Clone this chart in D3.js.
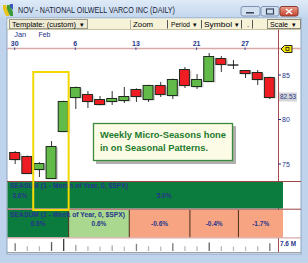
<!DOCTYPE html>
<html><head><meta charset="utf-8">
<script src="https://cdn.jsdelivr.net/npm/d3@7"></script>
<style>body{margin:0;background:#fff;overflow:hidden}svg{display:block}</style>
</head><body>
<script>
// ---------- DATA ----------
const title = "NOV - NATIONAL OILWELL VARCO INC (DAILY)";
const days   = ["30","31","1","4","5","6","7","8","11","12","13","14","15","19","20","21","22","25","26","27","28","29"];
const months = ["Jan","Jan","Feb","Feb","Feb","Feb","Feb","Feb","Feb","Feb","Feb","Feb","Feb","Feb","Feb","Feb","Feb","Feb","Feb","Feb","Feb","Feb"];
const open   = [76.35,75.90,74.44,73.43,78.71,82.53,82.87,82.30,82.08,82.19,83.43,82.30,83.88,82.75,85.67,83.76,84.33,86.91,86.12,85.56,85.34,84.78];
const high   = [76.45,75.95,75.20,77.58,82.10,83.70,83.20,82.64,83.20,83.65,83.50,83.90,84.21,84.60,85.90,85.11,87.47,87.13,86.69,85.56,85.56,84.80];
const low    = [75.00,73.90,73.54,73.40,78.60,81.18,81.29,81.60,81.63,81.85,81.97,81.97,82.53,82.30,83.54,83.43,84.21,85.34,85.67,84.66,83.88,82.30];
const close  = [75.56,73.99,75.11,77.02,82.08,83.65,82.08,81.74,82.42,82.64,82.64,83.88,82.87,84.55,83.88,84.55,87.13,86.24,86.12,85.22,84.55,82.53];
const volume = [4.5,2.8,2.8,5.2,7.0,3.5,2.8,2.6,3.2,2.6,4.2,2.8,2.6,4.5,2.8,2.8,5.0,2.8,2.6,2.6,2.8,4.5];
const dayTicks   = ["30","6","13","21","27"];
const priceTicks = [75,80,85];
const lastPrice  = "82.53";
const volMaxLabel = "7.6 M";
const monthNames  = ["Jan","Feb"];
const monthValues = [3.6,5.0];
const weekOf      = [0,0,0,0,0,1,1,1,1,1,2,2,2,2,2,3,3,3,3,4,4,4];
const weekValues  = [6.9,0.6,-0.6,-0.4,-1.7];
const panel1Label = "SEASUM (1 - Month of Year, 0, $SPX)";
const panel2Label = "SEASUM (2 - Week of Year, 0, $SPX)";
const calloutLines = ["Weekly Micro-Seasons hone","in on Seasonal Patterns."];
const toolbarItems = ["Template: (custom)","Zoom","Period","Symbol","Scale"];

// ---------- SETUP ----------
const W = 308, H = 263;
const svg = d3.select("body").append("svg").attr("width", W).attr("height", H);
const FONT = "Liberation Sans, Arial, sans-serif";
const NAVY = "#26368c";

function txt(g, s, x, y, o = {}) {
  const t = g.append("text").attr("x", x).attr("y", y).text(s)
    .attr("font-family", o.family || FONT).attr("font-size", o.size || 7)
    .attr("font-weight", o.weight || "normal").attr("fill", o.fill || "#000")
    .attr("text-anchor", o.anchor || "start");
  if (o.len) t.attr("textLength", o.len).attr("lengthAdjust", "spacingAndGlyphs");
  return t;
}

const defs = svg.append("defs");
const tg = defs.append("linearGradient").attr("id","tb").attr("x1",0).attr("y1",0).attr("x2",0).attr("y2",1);
tg.append("stop").attr("offset",0).attr("stop-color","#dfeaf7");
tg.append("stop").attr("offset",1).attr("stop-color","#c3d6ed");
const cg = defs.append("linearGradient").attr("id","cb").attr("x1",0).attr("y1",0).attr("x2",0).attr("y2",1);
cg.append("stop").attr("offset",0).attr("stop-color","#e8a08c");
cg.append("stop").attr("offset",1).attr("stop-color","#c8412c");

// frame
svg.append("rect").attr("width",W).attr("height",H).attr("fill","#bfd4ec");
svg.append("rect").attr("width",W).attr("height",18).attr("fill","url(#tb)");
// icon
svg.append("polygon").attr("points","3,5 6,5 9,12 9,16 6,16 3,9").attr("fill","#e9c21c");
svg.append("polygon").attr("points","7,5 10,5 13,12 13,16 10,16 7,9").attr("fill","#3f9a3a");
svg.append("polygon").attr("points","10,4 13,4 13,10 10,7").attr("fill","#3a58b8");
txt(svg, title, 18, 13, {size: 8.5, fill: "#1b2638", len: 157});
// window buttons
[[241,19],[261,18]].forEach(([x,w],i)=>{
  svg.append("rect").attr("x",x).attr("y",6.5).attr("width",w).attr("height",9.5).attr("rx",2)
    .attr("fill","#d3e0f0").attr("stroke","#7d93b4");
});
svg.append("rect").attr("x",246).attr("y",12).attr("width",8).attr("height",1.6).attr("fill","#3a4660");
svg.append("rect").attr("x",266.5).attr("y",9).attr("width",7).attr("height",5).attr("fill","none").attr("stroke","#3a4660").attr("stroke-width",1.2);
svg.append("rect").attr("x",280).attr("y",6.5).attr("width",18).attr("height",9.5).attr("rx",2).attr("fill","url(#cb)").attr("stroke","#8a3a2e");
svg.append("path").attr("d","M286,9 L292,14 M292,9 L286,14").attr("stroke","#fff").attr("stroke-width",1.6);

// content area
svg.append("rect").attr("x",7).attr("y",18).attr("width",294).attr("height",236).attr("fill","#fff").attr("stroke","#8ea3bf");
// toolbar
svg.append("rect").attr("x",7.5).attr("y",18.5).attr("width",293).attr("height",10.5).attr("fill","#f6f2d8");
svg.append("line").attr("x1",7).attr("x2",301).attr("y1",29.5).attr("y2",29.5).attr("stroke","#c9c2a2");
svg.append("rect").attr("x",9.5).attr("y",19.5).attr("width",78).attr("height",9).attr("fill","#efead2").attr("stroke","#9a9a8a");
txt(svg, toolbarItems[0], 12, 27, {size:7.5, len:64});
txt(svg, "\u25BE", 80, 27, {size:7});
svg.append("line").attr("x1",130.5).attr("x2",130.5).attr("y1",20).attr("y2",29).attr("stroke","#b8b29a");
txt(svg, toolbarItems[1], 133, 27, {size:7.5, len:20});
[167,201,241,252].forEach(x=>svg.append("line").attr("x1",x+.5).attr("x2",x+.5).attr("y1",20).attr("y2",28.5).attr("stroke","#555"));
txt(svg, toolbarItems[2], 171, 27, {size:7.5, len:19});
txt(svg, "\u25BE", 193, 27, {size:7});
txt(svg, toolbarItems[3], 204, 27, {size:7.5, len:28});
txt(svg, "\u25BE", 235, 27, {size:7});
txt(svg, ".", 247, 27, {size:7.5});
svg.append("rect").attr("x",267.5).attr("y",19.5).attr("width",33).attr("height",9).attr("fill","#f6f2d8").attr("stroke","#8a8a7a");
txt(svg, toolbarItems[4], 270, 27, {size:7.5, len:18});
txt(svg, "\u25BE", 292, 27, {size:7});

// ---------- SCALES ----------
const idx = d3.range(days.length);
const x = d3.scaleBand().domain(idx).range([8, 276]).padding(0.1);
const step = x.step();
const cx = i => x(i) + x.bandwidth() / 2;
const bandL = i => x(i) - x.paddingOuter() * step + 0; // left of slot
const slotL = i => 8 + i * step;
const y = d3.scaleLinear().domain([75, 85]).range([164, 75]);
const axisX = 278;
const panelRight = 283;

// date axis
const firstOfMonth = monthNames.map(m => months.indexOf(m));
firstOfMonth.forEach((i, k) => txt(svg, monthNames[k], cx(i) - 0.5, 37, {size:7.5, fill:NAVY, len:12}));
svg.append("line").attr("x1",7).attr("x2",301).attr("y1",48.5).attr("y2",48.5).attr("stroke","#d8a9a9").attr("stroke-width",1.5);
dayTicks.forEach(d => {
  const i = days.indexOf(d);
  txt(svg, d, cx(i), 46, {size:7, weight:"bold", fill:NAVY, anchor:"middle"});
  svg.append("line").attr("x1",cx(i)).attr("x2",cx(i)).attr("y1",47.5).attr("y2",50).attr("stroke","#3a4aa8");
});

// price axis line
svg.append("line").attr("x1",axisX+.5).attr("x2",axisX+.5).attr("y1",29.5).attr("y2",253).attr("stroke","#a54848");

// candles
const cg2 = svg.append("g");
idx.forEach(i => {
  const up = close[i] >= open[i];
  const doji = Math.abs(close[i]-open[i]) < 0.01;
  cg2.append("line").attr("x1",cx(i)+.5).attr("x2",cx(i)+.5).attr("y1",y(high[i])).attr("y2",y(low[i]))
    .attr("stroke","#333").attr("stroke-width",1);
  if (doji) {
    cg2.append("line").attr("x1",x(i)).attr("x2",x(i)+x.bandwidth()).attr("y1",y(open[i])).attr("y2",y(open[i]))
      .attr("stroke","#111").attr("stroke-width",1.3);
    return;
  }
  const top = y(Math.max(open[i],close[i])), bot = y(Math.min(open[i],close[i]));
  cg2.append("rect").attr("x",x(i)+1.5).attr("y",top+1.5).attr("width",x.bandwidth()).attr("height",Math.max(1,bot-top))
    .attr("fill","#000").attr("opacity",0.18);
  cg2.append("rect").attr("x",x(i)+.5).attr("y",top+.5).attr("width",x.bandwidth()-1).attr("height",Math.max(1,bot-top))
    .attr("fill", up ? "#62bb48" : "#ee1d24").attr("stroke","#1d2a1d").attr("stroke-width",1);
});

// price labels
priceTicks.forEach(p => {
  svg.append("line").attr("x1",axisX).attr("x2",axisX+3).attr("y1",y(p)).attr("y2",y(p)).attr("stroke",NAVY);
  txt(svg, p, axisX+4, y(p)+2.5, {size:7, fill:NAVY});
});
svg.append("rect").attr("x",axisX+1).attr("y",y(+lastPrice)-4.5).attr("width",18).attr("height",9).attr("fill","#d5d5d8");
txt(svg, lastPrice, axisX+2, y(+lastPrice)+2.5, {size:7, fill:NAVY, len:16});
// top yellow price tag
svg.append("polygon").attr("points","281,49 284.5,45.5 292,45.5 292,52.5 284.5,52.5").attr("fill","#f4e400").attr("stroke","#222");
svg.append("rect").attr("x",286).attr("y",47.5).attr("width",3).attr("height",3).attr("fill","none").attr("stroke","#222").attr("stroke-width",0.8);

// ---------- SEASONAL PANELS ----------
const colorOf = v => v >= 3 ? "#0c7b3e" : v >= 0 ? "#a9d88e" : "#f6a482";
const p1 = {y0:182, y1:208.5}, p2 = {y0:210, y1:237.5};
// month cells
monthNames.forEach((m, k) => {
  const a = months.indexOf(m), b = months.lastIndexOf(m);
  const x0 = k === 0 ? 7.5 : slotL(a), x1 = k === monthNames.length-1 ? panelRight : slotL(b+1);
  svg.append("rect").attr("x",x0).attr("y",p1.y0).attr("width",x1-x0).attr("height",p1.y1-p1.y0).attr("fill",colorOf(monthValues[k]));
});
monthNames.forEach((m, k) => {
  const a = months.indexOf(m), b = months.lastIndexOf(m);
  const x0 = k === 0 ? 7.5 : slotL(a), x1 = k === monthNames.length-1 ? 296 : slotL(b+1);
  txt(svg, monthValues[k].toFixed(1)+"%", (x0+x1)/2, 197.5, {size:6.5, weight:"bold", fill:NAVY, anchor:"middle"});
});
// week cells
weekValues.forEach((v, k) => {
  const a = weekOf.indexOf(k), b = weekOf.lastIndexOf(k);
  const x0 = k === 0 ? 7.5 : slotL(a), x1 = k === weekValues.length-1 ? panelRight : slotL(b+1);
  svg.append("rect").attr("x",x0).attr("y",p2.y0).attr("width",x1-x0).attr("height",p2.y1-p2.y0).attr("fill",colorOf(v));
  if (k > 0) svg.append("line").attr("x1",x0).attr("x2",x0).attr("y1",p2.y0).attr("y2",p2.y1).attr("stroke","#4a2c1c");
  txt(svg, v.toFixed(1)+"%", (x0+x1)/2, 226, {size:6.5, weight:"bold", fill:NAVY, anchor:"middle"});
});
[181.5, 209.2, 237.8].forEach((yy,i) => svg.append("line").attr("x1",7).attr("x2",301).attr("y1",yy).attr("y2",yy)
  .attr("stroke", i<2 ? "#9b4545" : "#d8a9a9").attr("stroke-width", i<2 ? 1 : 1.3));
txt(svg, panel1Label, 10, 187.5, {size:6.5, weight:"bold", fill:NAVY, len:118});
txt(svg, panel2Label, 10, 217, {size:6.5, weight:"bold", fill:NAVY, len:115});

// ---------- VOLUME ----------
const v = d3.scaleLinear().domain([0, 7.6]).range([251, 238]);
const vcol = d3.scaleLinear().domain([2.5, 6]).range(["#c2c2c2","#3c3c3c"]).clamp(true);
idx.forEach(i => {
  svg.append("line").attr("x1",cx(i)+.5).attr("x2",cx(i)+.5).attr("y1",251).attr("y2",v(volume[i]))
    .attr("stroke",vcol(volume[i])).attr("stroke-width",1.3);
});
txt(svg, volMaxLabel, axisX+2, 246, {size:7, weight:"bold", fill:NAVY, len:16});
svg.append("line").attr("x1",7).attr("x2",301).attr("y1",252.5).attr("y2",252.5).attr("stroke","#9aa0a8");

// ---------- ANNOTATIONS ----------
svg.append("rect").attr("x",slotL(2)+1).attr("y",72).attr("width",slotL(5)-slotL(2)-1).attr("height",138)
  .attr("fill","none").attr("stroke","#f3d800").attr("stroke-width",2);
svg.append("rect").attr("x",96).attr("y",126).attr("width",140).attr("height",38).attr("fill","#9c9c9c").attr("opacity",0.8);
svg.append("rect").attr("x",93.5).attr("y",123.5).attr("width",139).attr("height",37).attr("fill","#fcfbe6").attr("stroke","#3a8a3a").attr("stroke-width",1.3);
txt(svg, calloutLines[0], 100, 138, {size:9.5, weight:"bold", fill:"#237a2c", len:126});
txt(svg, calloutLines[1], 100, 151, {size:9.5, weight:"bold", fill:"#237a2c", len:108});
</script>
</body></html>
